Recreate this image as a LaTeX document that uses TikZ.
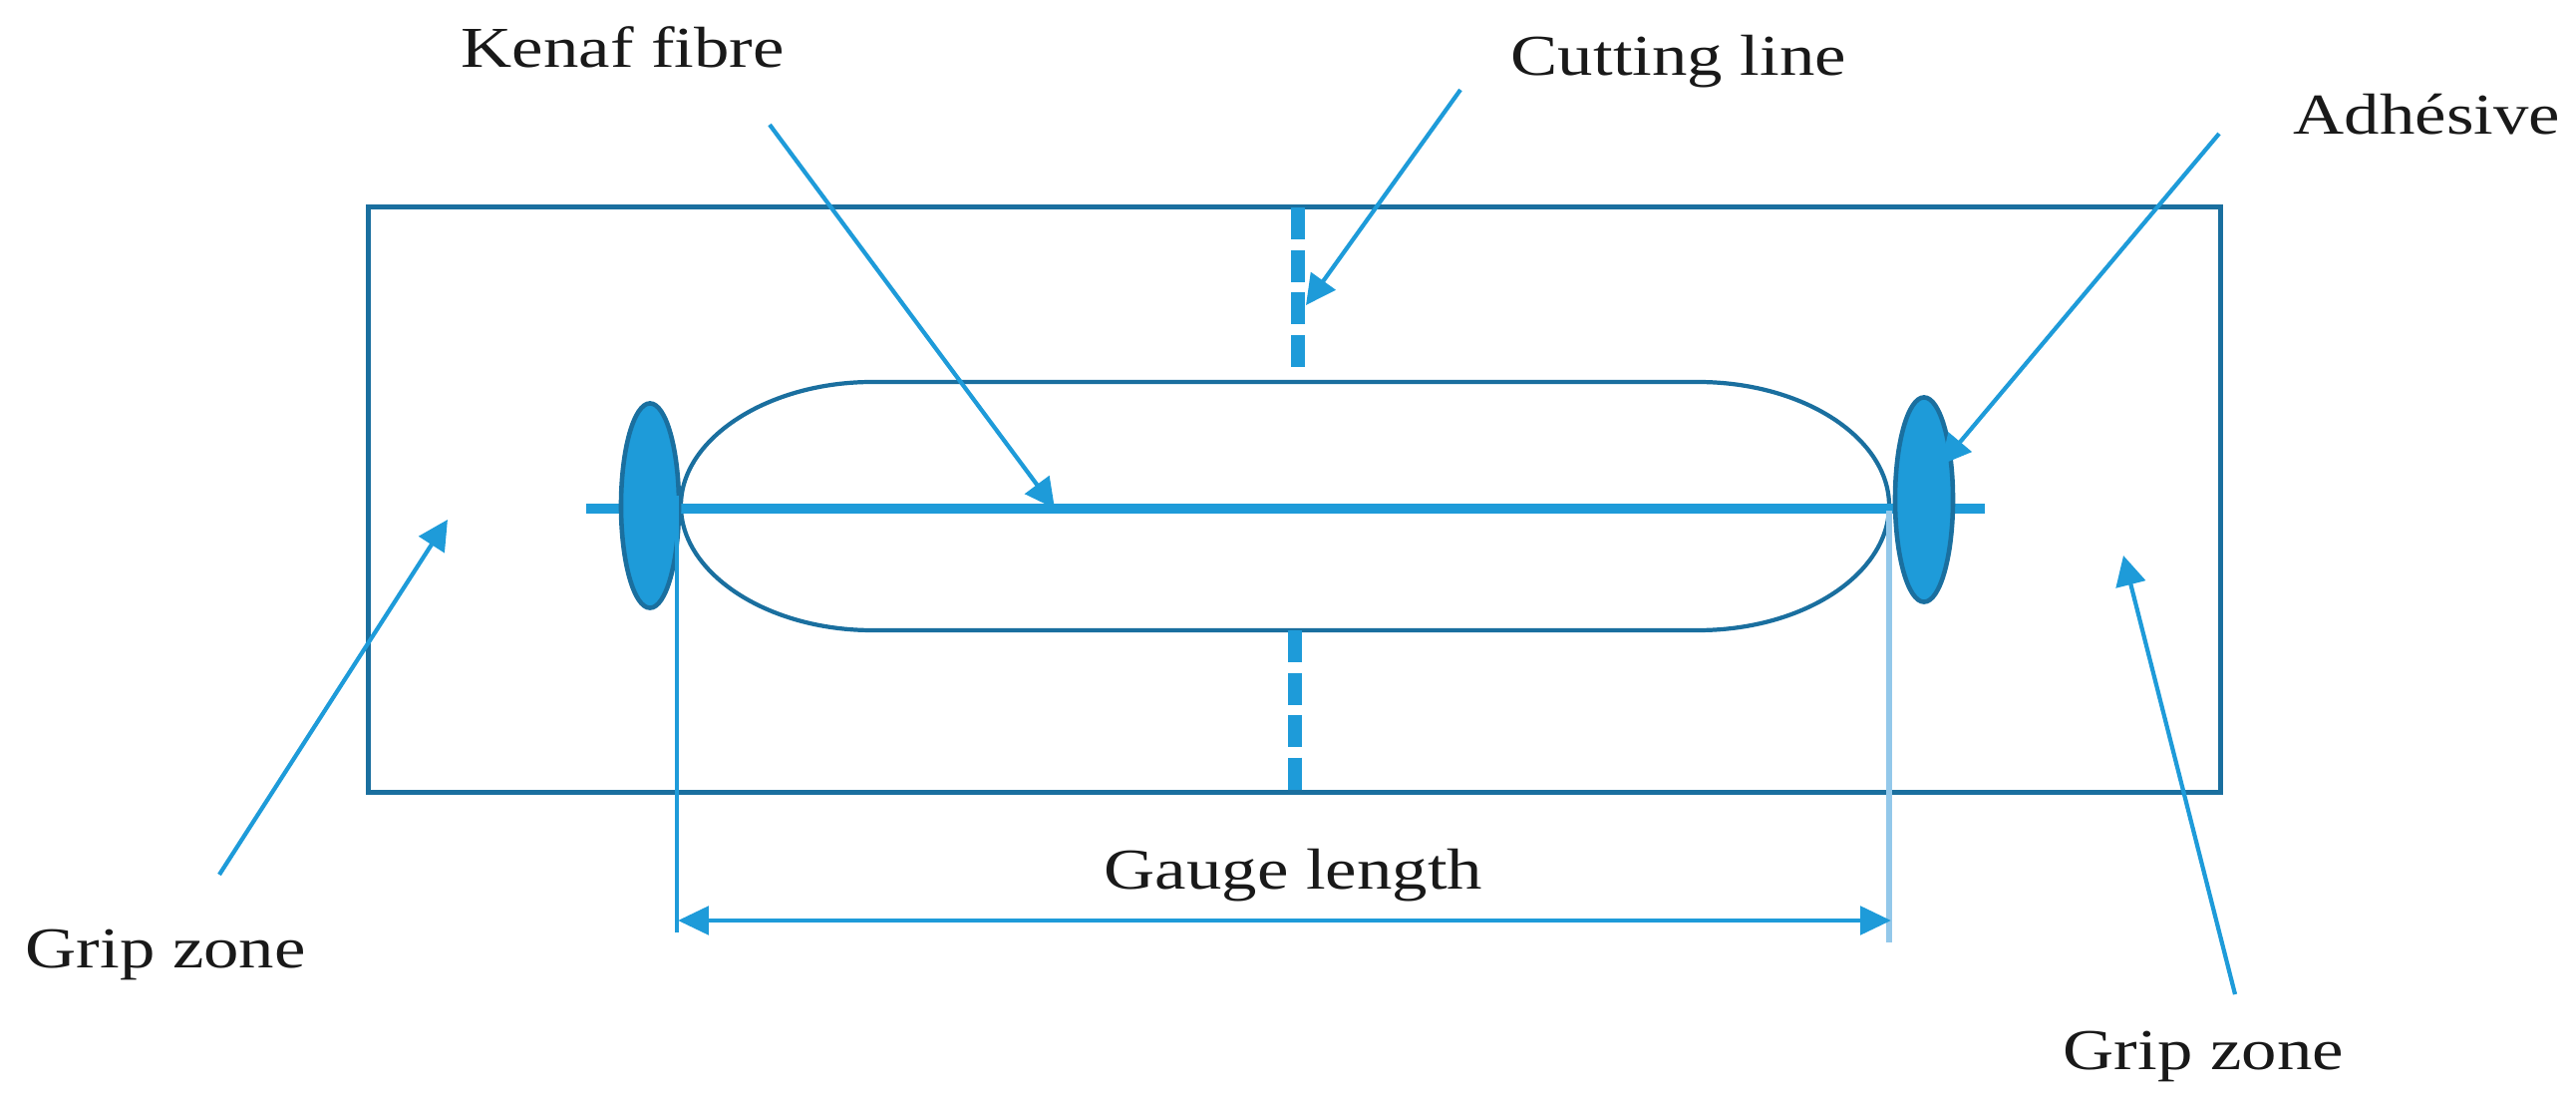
\documentclass[tikz,border=0pt]{standalone}
\usepackage{fontspec}
\setmainfont{Liberation Serif}
\usetikzlibrary{arrows.meta, shapes.geometric}
\definecolor{fibreblue}{HTML}{1E9BD9}
\definecolor{edgeblue}{HTML}{1A6F9F}
\definecolor{paleblue}{HTML}{93C8EA}
\newcommand{\widetext}[1]{\scalebox{1.22}[1]{#1}}
\tikzset{
  label text/.style={anchor=base west, inner sep=0pt, font=\fontsize{16.5}{20}\selectfont, text=black!90},
  pointer/.style={draw=fibreblue, line width=1.2pt, -{Triangle[length=8.5pt, width=8.5pt]}},
  cut line/.style={draw=fibreblue, line width=4.2pt, dash pattern=on 9.2pt off 2.9pt},
  glue/.style={ellipse, draw=edgeblue, fill=fibreblue, line width=1.3pt, inner sep=0pt, minimum width=0.58cm, minimum height=2.05cm}
}
\begin{document}
\begin{tikzpicture}[x=0.01cm,y=-0.01cm]
  \useasboundingbox (0,0) rectangle (2584,1113);
  % frame and gauge part
  \node[draw=edgeblue, line width=1.5pt, inner sep=0pt, minimum width=18.57cm, minimum height=5.86cm] (frame) at (1298.5,501) {};
  \draw[edgeblue, line width=1.2pt] (875,383) -- (1703,383) .. controls (1810,383) and (1895,440) .. (1895,507)
    .. controls (1895,575) and (1810,632) .. (1703,632) -- (875,632)
    .. controls (770,632) and (683,575) .. (683,507) .. controls (683,440) and (770,383) .. (875,383);
  \coordinate (fibre_l) at (588,510);
  \coordinate (fibre_r) at (1991,510);
  \draw[fibreblue, line width=3pt] (fibre_l) -- (fibre_r);
  \node[glue] (glue_l) at (652,507) {};
  \node[glue] (glue_r) at (1930,501) {};
  % cutting line, both halves
  \coordinate (cut_a) at (1302,208);
  \coordinate (cut_b) at (1302,370);
  \coordinate (cut_c) at (1299,632);
  \coordinate (cut_d) at (1299,793);
  \draw[cut line] (cut_a) -- (cut_b);
  \draw[cut line] (cut_c) -- (cut_d);
  % gauge length
  \coordinate (gauge_la) at (679,497);
  \coordinate (gauge_lb) at (679,935);
  \coordinate (gauge_ra) at (1895,512);
  \coordinate (gauge_rb) at (1895,945);
  \coordinate (gauge_l) at (680,923);
  \coordinate (gauge_r) at (1897,923);
  \draw[fibreblue, line width=0.9pt] (gauge_la) -- (gauge_lb);
  \draw[paleblue, line width=1.5pt] (gauge_ra) -- (gauge_rb);
  \draw[{Triangle[length=8.8pt, width=8pt]}-{Triangle[length=8.8pt, width=8pt]}, fibreblue, line width=1.4pt] (gauge_l) -- (gauge_r);
  % labels
  \node[label text] (kenaf) at (462,68) {\widetext{Kenaf fibre}};
  \node[label text] (cutting) at (1515,76) {\widetext{Cutting line}};
  \node[label text] (adhesive) at (2300,135) {\widetext{Adhésive}};
  \node[label text] (gauge) at (1107,892) {\widetext{Gauge length}};
  \node[label text] (grip_l) at (25,971) {\widetext{Grip zone}};
  \node[label text] (grip_r) at (2069,1073) {\widetext{Grip zone}};
  % pointers
  \coordinate (kenaf_from) at (772,125);
  \coordinate (kenaf_to) at (1058,510);
  \coordinate (cutting_from) at (1465,90);
  \coordinate (cutting_to) at (1310,306);
  \coordinate (adhesive_from) at (2226,134);
  \coordinate (adhesive_to) at (1947,466);
  \coordinate (grip_l_from) at (220,877);
  \coordinate (grip_l_to) at (449,521);
  \coordinate (grip_r_from) at (2242,997);
  \coordinate (grip_r_to) at (2130,557);
  \path[pointer] (kenaf_from) -- (kenaf_to);
  \path[pointer] (cutting_from) -- (cutting_to);
  \path[pointer] (adhesive_from) -- (adhesive_to);
  \path[pointer] (grip_l_from) -- (grip_l_to);
  \path[pointer] (grip_r_from) -- (grip_r_to);
\end{tikzpicture}
\end{document}
